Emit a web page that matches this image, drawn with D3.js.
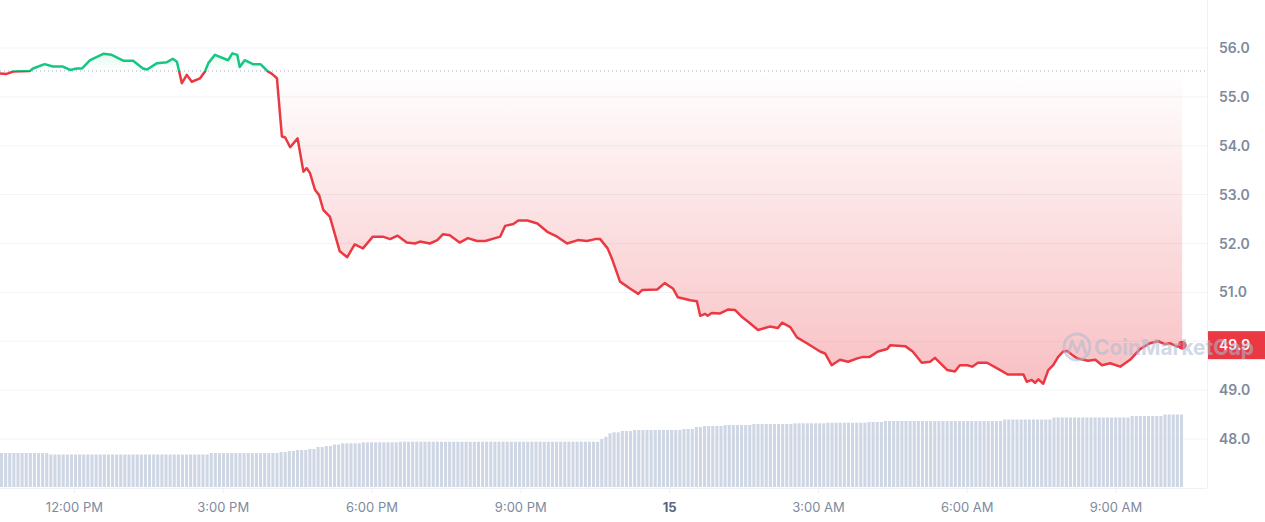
<!DOCTYPE html>
<html>
<head>
<meta charset="utf-8">
<script src="https://cdn.jsdelivr.net/npm/d3@7"></script>
<style>
  body { margin: 0; background: #fff; }
  text { font-family: Inter, "Noto Sans", sans-serif; }
</style>
</head>
<body>
<div id="chart"></div>
<script>
///////////// data //////////////
// minutes after 10:30 AM on the 14th
var minutes = [0, 8, 16, 36, 40, 54, 64, 76, 85, 93, 99, 109, 125, 135, 149, 161, 173, 178, 190, 202,
  209, 214, 220, 226, 232, 242, 248, 252, 260, 276, 281, 287, 290, 296, 306, 315, 324, 329, 335, 341,
  345, 351, 360, 367, 371, 375, 381, 386, 391, 399, 411, 420, 429, 439, 451, 463, 472, 481, 492, 502,
  508, 520, 529, 536, 544, 556, 566, 577, 587, 599, 605, 611, 621, 627, 638, 650, 662, 674, 686, 699,
  710, 720, 726, 735, 740, 750, 762, 772, 777, 795, 804, 814, 820, 835, 843, 847, 853, 856, 861, 871,
  881, 889, 898, 905, 917, 931, 941, 946, 956, 964, 976, 992, 998, 1006, 1016, 1026, 1037, 1044, 1052, 1062,
  1073, 1077, 1095, 1104, 1115, 1125, 1131, 1146, 1155, 1161, 1170, 1176, 1183, 1194, 1210, 1219, 1231, 1238, 1242, 1248,
  1252, 1256, 1262, 1268, 1274, 1280, 1286, 1291, 1297, 1303, 1316, 1325, 1333, 1343, 1355, 1367, 1379, 1391, 1401, 1409,
  1415, 1424, 1430];
var prices = [55.48, 55.47, 55.52, 55.53, 55.58, 55.67, 55.62, 55.62, 55.55, 55.58, 55.58, 55.75, 55.88, 55.86, 55.74, 55.74, 55.58, 55.56, 55.69, 55.71,
  55.78, 55.72, 55.28, 55.45, 55.31, 55.38, 55.52, 55.69, 55.86, 55.75, 55.89, 55.86, 55.61, 55.75, 55.67, 55.67, 55.52, 55.47, 55.38, 54.19,
  54.17, 53.97, 54.15, 53.47, 53.54, 53.44, 53.10, 52.99, 52.69, 52.55, 51.84, 51.72, 51.98, 51.90, 52.14, 52.14, 52.09, 52.16, 52.02, 52.00,
  52.04, 52.00, 52.07, 52.19, 52.17, 52.02, 52.11, 52.05, 52.05, 52.11, 52.14, 52.36, 52.40, 52.47, 52.47, 52.41, 52.24, 52.14, 52.00, 52.07,
  52.05, 52.09, 52.09, 51.90, 51.70, 51.22, 51.08, 50.97, 51.05, 51.06, 51.19, 51.08, 50.90, 50.84, 50.82, 50.52, 50.56, 50.52, 50.58, 50.57,
  50.65, 50.64, 50.49, 50.40, 50.23, 50.30, 50.27, 50.38, 50.29, 50.08, 49.96, 49.79, 49.75, 49.51, 49.62, 49.58, 49.65, 49.68, 49.68, 49.79,
  49.84, 49.92, 49.90, 49.79, 49.56, 49.58, 49.66, 49.41, 49.38, 49.51, 49.51, 49.48, 49.56, 49.56, 49.41, 49.32, 49.32, 49.32, 49.17, 49.21,
  49.15, 49.22, 49.13, 49.41, 49.51, 49.68, 49.79, 49.80, 49.72, 49.65, 49.60, 49.62, 49.51, 49.55, 49.48, 49.62, 49.84, 49.96, 50.00, 49.94,
  49.96, 49.89, 49.92];
var open_price = 55.53;
var last_label = '49.9';

// volume per 5 min bar, run-length: [value, number of bars]
var volume_runs = [[340, 12], [325, 39], [340, 17], [350, 2], [360, 2], [370, 3], [380, 2], [400, 2], [410, 2], [425, 2],
  [437, 5], [447, 9], [453, 49], [480, 1], [503, 1], [537, 1], [547, 2], [560, 3], [570, 12], [580, 3], [600, 2],
  [610, 5], [620, 7], [630, 10], [637, 8], [643, 10], [650, 4], [660, 29], [675, 12], [695, 19], [710, 8], [725, 5]];

var y_ticks = [48, 49, 50, 51, 52, 53, 54, 55, 56];

///////////// setup //////////////
const W = 1265, H = 522;
const plot_right = 1183, axis_x = 1207;
const green = '#16c784', red = '#ea3943';

var start = new Date(2023, 5, 14, 10, 30);
var end = new Date(2023, 5, 14, 10, 30 + 1431);

var series = minutes.map(function(m, i){
  return { t: new Date(start.getTime() + m * 60000), v: prices[i] };
});

var volumes = [];
volume_runs.forEach(function(r){
  for (var k = 0; k < r[1]; k++) volumes.push(r[0]);
});

var svg = d3.select('#chart').append('svg')
  .attr('width', W).attr('height', H);

var x = d3.scaleTime().domain([start, end]).range([0, plot_right]);
var y = d3.scaleLinear().domain([48, 56]).range([439, 48]);

var vx = d3.scaleBand().domain(d3.range(volumes.length)).range([0, plot_right]).paddingInner(0.25);
var vy = d3.scaleLinear().domain([0, 1000]).range([487, 387]);

var defs = svg.append('defs');

var redGrad = defs.append('linearGradient').attr('id', 'redGrad')
  .attr('gradientUnits', 'userSpaceOnUse')
  .attr('x1', 0).attr('x2', 0).attr('y1', y(open_price)).attr('y2', y(d3.min(prices)));
redGrad.append('stop').attr('offset', 0).attr('stop-color', red).attr('stop-opacity', 0);
redGrad.append('stop').attr('offset', 1).attr('stop-color', red).attr('stop-opacity', 0.32);

var greenGrad = defs.append('linearGradient').attr('id', 'greenGrad')
  .attr('gradientUnits', 'userSpaceOnUse')
  .attr('x1', 0).attr('x2', 0).attr('y1', y(d3.max(prices))).attr('y2', y(open_price));
greenGrad.append('stop').attr('offset', 0).attr('stop-color', green).attr('stop-opacity', 0.12);
greenGrad.append('stop').attr('offset', 1).attr('stop-color', green).attr('stop-opacity', 0);

defs.append('clipPath').attr('id', 'above').append('rect')
  .attr('x', 0).attr('y', 0).attr('width', axis_x).attr('height', y(open_price));
defs.append('clipPath').attr('id', 'below').append('rect')
  .attr('x', 0).attr('y', y(open_price)).attr('width', axis_x).attr('height', H);

///////////// grid + axes //////////////
svg.append('g').selectAll('line').data(y_ticks).enter().append('line')
  .attr('x1', 0).attr('x2', axis_x)
  .attr('y1', d => y(d)).attr('y2', d => y(d))
  .attr('stroke', '#f2f3f5').attr('stroke-width', 1);

svg.append('line').attr('x1', axis_x + 0.5).attr('x2', axis_x + 0.5)
  .attr('y1', 0).attr('y2', 488).attr('stroke', '#eff2f5');
svg.append('line').attr('x1', 0).attr('x2', axis_x)
  .attr('y1', 488.5).attr('y2', 488.5).attr('stroke', '#eff2f5');

svg.append('g').selectAll('text').data(y_ticks).enter().append('text')
  .attr('x', 1219).attr('y', d => y(d) + 5)
  .attr('fill', '#808a9d').attr('font-size', 14).attr('font-weight', 600)
  .text(d => d3.format('.1f')(d));

var x_ticks = x.ticks(d3.timeHour.every(3));
var xg = svg.append('g').selectAll('g').data(x_ticks).enter().append('g')
  .attr('transform', d => 'translate(' + x(d) + ',0)');
xg.append('line').attr('y1', 488).attr('y2', 493).attr('stroke', '#eff2f5');
xg.append('text').attr('y', 512).attr('text-anchor', 'middle')
  .attr('font-size', 13)
  .attr('font-weight', d => d.getHours() === 0 ? 700 : 400)
  .attr('fill', d => d.getHours() === 0 ? '#58667e' : '#808a9d')
  .text(d => d.getHours() === 0 ? d3.timeFormat('%-d')(d) : d3.timeFormat('%-I:%M %p')(d));

///////////// volume //////////////
svg.append('g').selectAll('rect').data(volumes).enter().append('rect')
  .attr('x', (d, i) => vx(i)).attr('width', vx.bandwidth())
  .attr('y', d => vy(d)).attr('height', d => 487 - vy(d))
  .attr('fill', '#cfd6e4');

///////////// price //////////////
var area = d3.area().x(d => x(d.t)).y0(y(open_price)).y1(d => y(d.v));
var line = d3.line().x(d => x(d.t)).y(d => y(d.v));

svg.append('path').datum(series).attr('d', area)
  .attr('clip-path', 'url(#below)').attr('fill', 'url(#redGrad)');
svg.append('path').datum(series).attr('d', area)
  .attr('clip-path', 'url(#above)').attr('fill', 'url(#greenGrad)');

svg.append('line').attr('x1', 0).attr('x2', axis_x)
  .attr('y1', y(open_price)).attr('y2', y(open_price))
  .attr('stroke', '#a6b0c3').attr('stroke-width', 1).attr('stroke-dasharray', '1,3');

svg.append('path').datum(series).attr('d', line)
  .attr('clip-path', 'url(#below)').attr('fill', 'none')
  .attr('stroke', red).attr('stroke-width', 2.5).attr('stroke-linejoin', 'round');
svg.append('path').datum(series).attr('d', line)
  .attr('clip-path', 'url(#above)').attr('fill', 'none')
  .attr('stroke', green).attr('stroke-width', 2.5).attr('stroke-linejoin', 'round');

var last = series[series.length - 1];
svg.append('circle').attr('cx', x(last.t)).attr('cy', y(last.v)).attr('r', 4.5).attr('fill', red);

// current price tag
svg.append('rect').attr('x', 1208).attr('y', y(last.v) - 14).attr('width', 57).attr('height', 28).attr('fill', red);
svg.append('text').attr('x', 1219).attr('y', y(last.v) + 5)
  .attr('fill', '#fff').attr('font-size', 14).attr('font-weight', 600).text(last_label);

///////////// watermark //////////////
var wm = svg.append('g').attr('opacity', 0.55);
wm.append('circle').attr('cx', 1077).attr('cy', 347).attr('r', 13)
  .attr('fill', 'none').attr('stroke', '#aebbd2').attr('stroke-width', 3);
wm.append('path').attr('d', 'M1068,354 L1072,341 L1077,352 L1082,341 L1086,354')
  .attr('fill', 'none').attr('stroke', '#aebbd2').attr('stroke-width', 3).attr('stroke-linejoin', 'round');
wm.append('text').attr('x', 1094).attr('y', 355).attr('fill', '#aebbd2')
  .attr('font-size', 22).attr('font-weight', 700)
  .attr('textLength', 160).attr('lengthAdjust', 'spacingAndGlyphs')
  .text('CoinMarketCap');
</script>
</body>
</html>
